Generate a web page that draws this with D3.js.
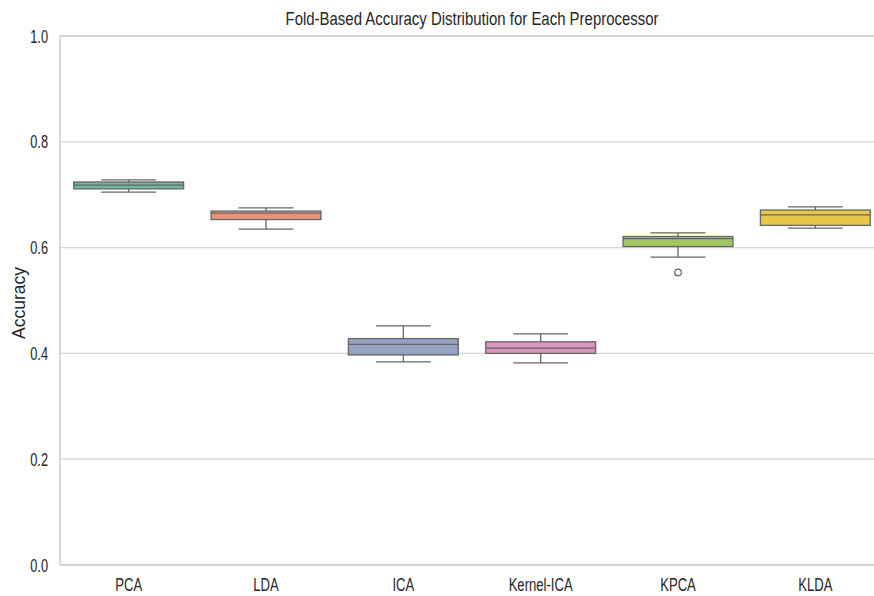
<!DOCTYPE html>
<html>
<head>
<meta charset="utf-8">
<script src="https://cdn.jsdelivr.net/npm/d3@7"></script>
<style>
  html, body { margin: 0; padding: 0; background: #fff; }
  svg { display: block; }
  text { font-family: "Liberation Sans", Arial, sans-serif; fill: #262626; }
</style>
</head>
<body>
<svg id="chart" width="874" height="596"></svg>
<script>
// Preprocessors and their fold accuracy summaries
const preprocessors = ["PCA", "LDA", "ICA", "Kernel-ICA", "KPCA", "KLDA"];
const whiskerLow  = [0.705, 0.635, 0.384, 0.382, 0.582, 0.637];
const q1          = [0.711, 0.653, 0.397, 0.400, 0.602, 0.642];
const median      = [0.718, 0.665, 0.417, 0.410, 0.617, 0.662];
const q3          = [0.724, 0.669, 0.428, 0.422, 0.621, 0.671];
const whiskerHigh = [0.728, 0.675, 0.452, 0.437, 0.628, 0.677];
const outliers    = [[], [], [], [], [0.553], []];
const yTicks      = [0.0, 0.2, 0.4, 0.6, 0.8, 1.0];
const fills = ["#71b6a0", "#e99575", "#95a3c3", "#db96c0", "#a2c864", "#e5c849"];

const svg = d3.select("#chart");
const plotLeft = 60, plotRight = 884, plotTop = 36, plotBottom = 565;
const tickSqueeze = 0.69;   // narrow lettering for tick labels
const titleSqueeze = 0.845;

const x = d3.scaleBand().domain(preprocessors).range([plotLeft, plotRight]).paddingInner(0).paddingOuter(0);
const y = d3.scaleLinear().domain([0, 1]).range([plotBottom, plotTop]);

// horizontal grid
svg.append("g").selectAll("line").data(yTicks).join("line")
  .attr("x1", plotLeft).attr("x2", plotRight)
  .attr("y1", d => y(d)).attr("y2", d => y(d))
  .attr("stroke", "#d6d6d6").attr("stroke-width", 1.2);

// spines
svg.append("line").attr("x1", plotLeft).attr("x2", plotLeft).attr("y1", plotTop).attr("y2", plotBottom)
  .attr("stroke", "#cbcbcb").attr("stroke-width", 1.5);
svg.append("line").attr("x1", plotLeft).attr("x2", plotRight).attr("y1", plotBottom).attr("y2", plotBottom)
  .attr("stroke", "#cbcbcb").attr("stroke-width", 1.5);
svg.append("line").attr("x1", plotLeft).attr("x2", plotRight).attr("y1", plotTop).attr("y2", plotTop)
  .attr("stroke", "#cbcbcb").attr("stroke-width", 1.5);

// y tick labels
svg.append("g").selectAll("text").data(yTicks).join("text")
  .attr("transform", d => `translate(${plotLeft - 12},${y(d) + 6.5}) scale(${tickSqueeze},1)`)
  .attr("text-anchor", "end").attr("font-size", 18.5)
  .text(d => d.toFixed(1));

// x tick labels
svg.append("g").selectAll("text").data(preprocessors).join("text")
  .attr("transform", d => `translate(${x(d) + x.bandwidth() / 2},${plotBottom + 26}) scale(${tickSqueeze},1)`)
  .attr("text-anchor", "middle").attr("font-size", 19)
  .text(d => d);

// axis label and title
svg.append("text")
  .attr("transform", `translate(25,303) rotate(-90)`)
  .attr("text-anchor", "middle").attr("font-size", 17.5)
  .text("Accuracy");
svg.append("text")
  .attr("transform", `translate(${(plotLeft + plotRight) / 2},25) scale(${titleSqueeze},1)`)
  .attr("text-anchor", "middle").attr("font-size", 17.7)
  .text("Fold-Based Accuracy Distribution for Each Preprocessor");

// boxes
const line = "#666666";
const boxW = x.bandwidth() * 0.8;
const capW = boxW * 0.5;
const g = svg.append("g").selectAll("g").data(preprocessors).join("g")
  .attr("transform", d => `translate(${x(d) + x.bandwidth() / 2},0)`);

g.append("line").attr("x1", 0).attr("x2", 0)
  .attr("y1", (d, i) => y(whiskerHigh[i])).attr("y2", (d, i) => y(q3[i]))
  .attr("stroke", line).attr("stroke-width", 1.3);
g.append("line").attr("x1", 0).attr("x2", 0)
  .attr("y1", (d, i) => y(q1[i])).attr("y2", (d, i) => y(whiskerLow[i]))
  .attr("stroke", line).attr("stroke-width", 1.3);
g.append("line").attr("x1", -capW / 2).attr("x2", capW / 2)
  .attr("y1", (d, i) => y(whiskerHigh[i])).attr("y2", (d, i) => y(whiskerHigh[i]))
  .attr("stroke", line).attr("stroke-width", 1.3);
g.append("line").attr("x1", -capW / 2).attr("x2", capW / 2)
  .attr("y1", (d, i) => y(whiskerLow[i])).attr("y2", (d, i) => y(whiskerLow[i]))
  .attr("stroke", line).attr("stroke-width", 1.3);
g.append("rect")
  .attr("x", -boxW / 2).attr("width", boxW)
  .attr("y", (d, i) => y(q3[i])).attr("height", (d, i) => y(q1[i]) - y(q3[i]))
  .attr("fill", (d, i) => fills[i]).attr("stroke", line).attr("stroke-width", 1.3);
g.append("line").attr("x1", -boxW / 2).attr("x2", boxW / 2)
  .attr("y1", (d, i) => y(median[i])).attr("y2", (d, i) => y(median[i]))
  .attr("stroke", line).attr("stroke-width", 1.3);
g.each(function(d, i) {
  d3.select(this).selectAll("circle").data(outliers[i]).join("circle")
    .attr("cx", 0).attr("cy", v => y(v)).attr("r", 3.3)
    .attr("fill", "none").attr("stroke", line).attr("stroke-width", 1.2);
});
</script>
</body>
</html>
